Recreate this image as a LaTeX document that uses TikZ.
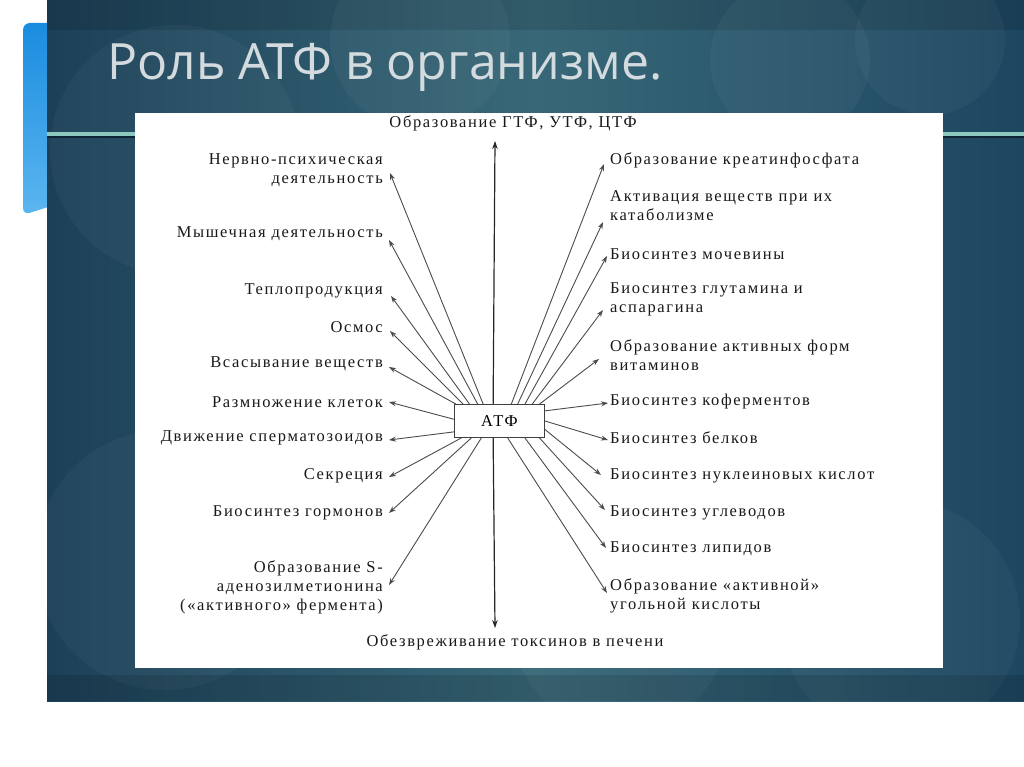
\documentclass[tikz,border=0pt]{standalone}
\usepackage{fontspec}
\newfontfamily\titlefont{Open Sans}
\newfontfamily\dg[LetterSpace=10]{Liberation Serif}
\usetikzlibrary{arrows.meta,calc}
\definecolor{slideL}{HTML}{1C4058}
\definecolor{slideM}{HTML}{386878}
\definecolor{slideR}{HTML}{1D4660}
\definecolor{titlegray}{HTML}{D3DBDF}
\definecolor{barTop}{HTML}{1A8CDF}
\definecolor{barBot}{HTML}{5CB6F0}
\definecolor{ruleLight}{HTML}{8CC7C0}
\definecolor{ruleDark}{HTML}{0D2535}
\tikzset{
  lab/.style={font=\dg\fontsize{16.5}{19}\selectfont, inner sep=0pt, text=black!90},
  labL/.style={lab, anchor=east, align=right},
  labR/.style={lab, anchor=west, align=left},
  labC/.style={lab, anchor=center},
  arr/.style={-{Stealth[length=7pt,width=5pt]}, line width=0.9pt, draw=black!70},
  varr/.style={-{Stealth[length=8pt,width=5.5pt]}, line width=1.2pt, draw=black!85},
  atfbox/.style={draw=black!75, line width=0.9pt, fill=white, minimum width=90pt,
    minimum height=33pt, inner sep=0pt, font=\dg\fontsize{16.5}{19}\selectfont},
  circ/.style={fill=white, fill opacity=0.035}
}
\begin{document}
\begin{tikzpicture}[x=1pt,y=-1pt]
\useasboundingbox (0,0) rectangle (1024,767);
\fill[white] (0,0) rectangle (1024,767);
% blue accent bar
\shade[top color=barTop, bottom color=barBot, rounded corners=7pt]
  (70,23) -- (70,200) -- (23,215) -- (23,23) -- cycle;
% slide background
\shade[left color=slideL, right color=slideR, middle color=slideM] (47,0) rectangle (1024,701);
\begin{scope}
\clip (47,0) rectangle (1024,701);
\fill[black, fill opacity=0.12] (47,0) rectangle (1024,30);
\fill[circ] (175,150) circle (125);
\fill[circ] (165,560) circle (130);
\fill[circ] (790,60) circle (80);
\fill[circ] (930,40) circle (75);
\fill[circ] (620,620) circle (110);
\fill[circ] (900,620) circle (120);
\fill[circ] (420,40) circle (90);
\fill[black, fill opacity=0.12] (47,675) rectangle (1024,701);
\end{scope}
% horizontal rule
\fill[ruleLight] (47,132.5) rectangle (1024,136);
\fill[ruleDark] (47,136) rectangle (1024,138.5);
% title
\node[anchor=base west, font=\titlefont\fontsize{50}{50}\selectfont, text=titlegray, inner sep=0pt]
  (title) at (107,80) {Роль АТФ в организме.};
% white panel
\fill[white] (135,113) rectangle (943,668);

% central box
\node[atfbox] (atf) at (499.5,421) {АТФ};

% top and bottom labels
\node[labC] (top) at (513,123) {Образование ГТФ, УТФ, ЦТФ};
\node[labC] (bot) at (515,642) {Обезвреживание токсинов в печени};

% left labels
\node[labL] (l1) at (383,170) {Нервно-психическая\\деятельность};
\node[labL] (l2) at (383,234) {Мышечная деятельность};
\node[labL] (l3) at (383,291) {Теплопродукция};
\node[labL] (l4) at (383,327) {Осмос};
\node[labL] (l5) at (383,364) {Всасывание веществ};
\node[labL] (l6) at (383,402) {Размножение клеток};
\node[labL] (l7) at (383,438) {Движение сперматозоидов};
\node[labL] (l8) at (383,476) {Секреция};
\node[labL] (l9) at (383,513) {Биосинтез гормонов};
\node[labL] (l10) at (383,587) {Образование S-\\аденозилметионина\\(«активного» фермента)};

% right labels
\node[labR] (r1) at (610,160) {Образование креатинфосфата};
\node[labR] (r2) at (610,206) {Активация веществ при их\\катаболизме};
\node[labR] (r3) at (610,254) {Биосинтез мочевины};
\node[labR] (r4) at (610,299) {Биосинтез глутамина и\\аспарагина};
\node[labR] (r5) at (610,355) {Образование активных форм\\витаминов};
\node[labR] (r6) at (610,402) {Биосинтез коферментов};
\node[labR] (r7) at (610,438) {Биосинтез белков};
\node[labR] (r8) at (610,476) {Биосинтез нуклеиновых кислот};
\node[labR] (r9) at (610,513) {Биосинтез углеводов};
\node[labR] (r10) at (610,549) {Биосинтез липидов};
\node[labR] (r11) at (610,596) {Образование «активной»\\угольной кислоты};

% arrow tips (free ends beside labels)
\coordinate (tt) at (495,141);
\coordinate (tb) at (495,628);
\coordinate (t1) at (390,173);
\coordinate (t2) at (389,240);
\coordinate (t3) at (391,296);
\coordinate (t4) at (390,331);
\coordinate (t5) at (389,367);
\coordinate (t6) at (389,402);
\coordinate (t7) at (389,440);
\coordinate (t8) at (389,477);
\coordinate (t9) at (389,513);
\coordinate (t10) at (389,585);
\coordinate (u1) at (604,164);
\coordinate (u2) at (603,222);
\coordinate (u3) at (607,256);
\coordinate (u4) at (603,310);
\coordinate (u5) at (599,359);
\coordinate (u6) at (608,403);
\coordinate (u7) at (608,440);
\coordinate (u8) at (601,475);
\coordinate (u9) at (605,510);
\coordinate (u10) at (606,548);
\coordinate (u11) at (607,593);

% vertical arrows
\draw[varr] ($(atf.north west)!0.43!(atf.north east)$) -- (tt);
\draw[varr] ($(atf.south west)!0.43!(atf.south east)$) -- (tb);

% left arrows
\draw[arr] ($(atf.north west)!0.32!(atf.north east)$) -- (t1);
\draw[arr] ($(atf.north west)!0.26!(atf.north east)$) -- (t2);
\draw[arr] ($(atf.north west)!0.17!(atf.north east)$) -- (t3);
\draw[arr] ($(atf.north west)!0.10!(atf.north east)$) -- (t4);
\draw[arr] ($(atf.north west)!0.02!(atf.north east)$) -- (t5);
\draw[arr] ($(atf.north west)!0.45!(atf.south west)$) -- (t6);
\draw[arr] ($(atf.north west)!0.82!(atf.south west)$) -- (t7);
\draw[arr] ($(atf.south west)!0.08!(atf.south east)$) -- (t8);
\draw[arr] ($(atf.south west)!0.19!(atf.south east)$) -- (t9);
\draw[arr] ($(atf.south west)!0.30!(atf.south east)$) -- (t10);

% right arrows
\draw[arr] ($(atf.north west)!0.63!(atf.north east)$) -- (u1);
\draw[arr] ($(atf.north west)!0.70!(atf.north east)$) -- (u2);
\draw[arr] ($(atf.north west)!0.78!(atf.north east)$) -- (u3);
\draw[arr] ($(atf.north west)!0.86!(atf.north east)$) -- (u4);
\draw[arr] ($(atf.north west)!0.94!(atf.north east)$) -- (u5);
\draw[arr] ($(atf.north east)!0.20!(atf.south east)$) -- (u6);
\draw[arr] ($(atf.north east)!0.50!(atf.south east)$) -- (u7);
\draw[arr] ($(atf.north east)!0.75!(atf.south east)$) -- (u8);
\draw[arr] ($(atf.south west)!0.94!(atf.south east)$) -- (u9);
\draw[arr] ($(atf.south west)!0.78!(atf.south east)$) -- (u10);
\draw[arr] ($(atf.south west)!0.59!(atf.south east)$) -- (u11);
\end{tikzpicture}
\end{document}
